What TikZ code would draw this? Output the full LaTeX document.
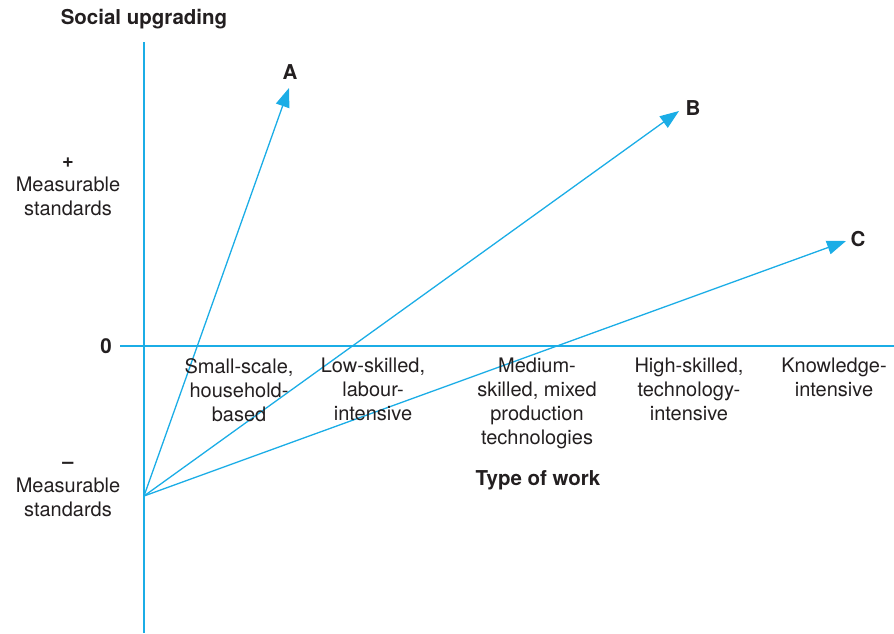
\documentclass[tikz,border=0pt]{standalone}
\usepackage{fontspec}
\setmainfont{TeX Gyre Heros}
\usetikzlibrary{arrows.meta}
\definecolor{axiscyan}{HTML}{1BADE6}
\definecolor{ink}{HTML}{231F20}
\tikzset{
  axisline/.style={draw=axiscyan, line width=1.3pt},
  vector/.style={draw=axiscyan, line width=1.3pt, -{Triangle[length=19pt,width=14pt]}},
  cat/.style={text=ink, font=\fontsize{20}{24}\selectfont, align=center, anchor=north, inner sep=0pt},
  lbl/.style={text=ink, font=\fontsize{20.5}{24}\selectfont\bfseries, inner sep=0pt},
  side/.style={text=ink, font=\fontsize{20}{24}\selectfont, align=center, inner sep=0pt},
}
\begin{document}
\begin{tikzpicture}[x=1pt,y=-1pt]
\useasboundingbox (0,0) rectangle (894,633);
% axes
\coordinate (ytop) at (144,42);
\coordinate (ybot) at (144,633);
\coordinate (xl) at (120,346);
\coordinate (xr) at (894,346);
\draw[axisline] (ytop) -- (ybot);
\draw[axisline] (xl) -- (xr);
% trajectories
\coordinate (o) at (144,496);
\coordinate (tA) at (289,88);
\coordinate (tB) at (679,111);
\coordinate (tC) at (846,241);
\draw[vector] (o) -- (tA);
\draw[vector] (o) -- (tB);
\draw[vector] (o) -- (tC);
\node[lbl] (A) at (290,72) {A};
\node[lbl] (B) at (693,108) {B};
\node[lbl] (C) at (858,239) {C};
% axis titles
\node[lbl] (ytitle) at (144,19) {Social upgrading};
\node[lbl] (xtitle) at (538,480) {Type of work};
\node[lbl] (zero) at (106,346) {0};
\node[side, anchor=north] (plus) at (68,158) {\textbf{+}\\Measurable\\standards};
\node[side, anchor=north] (minus) at (68,462) {\textbf{–}\\Measurable\\standards};
% categories
\node[cat] (c1) at (239,358) {Small-scale,\\household-\\based};
\node[cat] (c2) at (373,358) {Low-skilled,\\labour-\\intensive};
\node[cat] (c3) at (537,358) {Medium-\\skilled, mixed\\production\\technologies};
\node[cat] (c4) at (689,358) {High-skilled,\\technology-\\intensive};
\node[cat] (c5) at (834,358) {Knowledge-\\intensive};
\end{tikzpicture}
\end{document}
